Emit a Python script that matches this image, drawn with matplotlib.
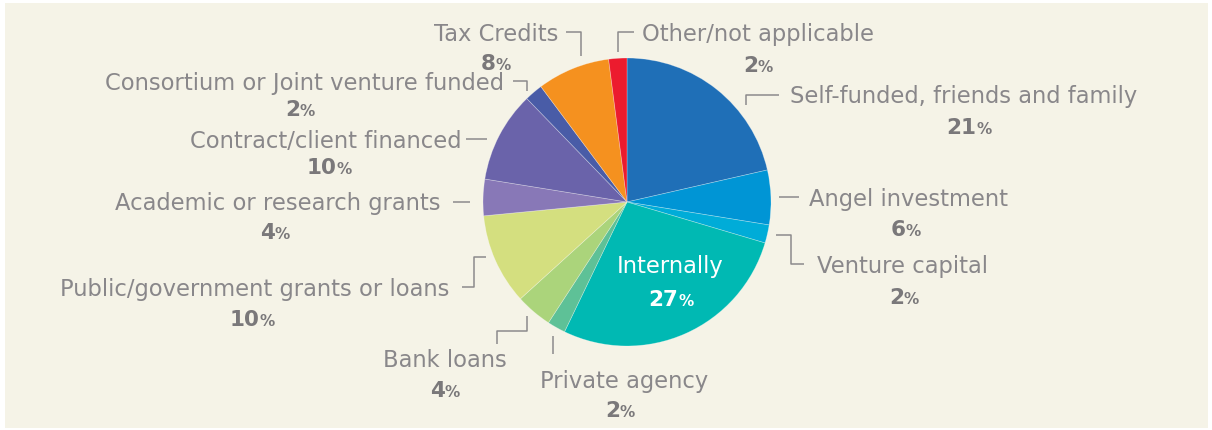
import matplotlib.pyplot as plt
from matplotlib.patches import Rectangle

W, H = 1212, 431

labels = ["Self-funded, friends and family", "Angel investment", "Venture capital",
          "Internally", "Private agency", "Bank loans",
          "Public/government grants or loans", "Academic or research grants",
          "Contract/client financed", "Consortium or Joint venture funded",
          "Tax Credits", "Other/not applicable"]
values = [21, 6, 2, 27, 2, 4, 10, 4, 10, 2, 8, 2]
colors = ["#1f6fb7", "#0095d5", "#00acd8", "#00b9b3", "#5ec197", "#abd47b",
          "#d4df7f", "#8878b7", "#6a63aa", "#495ca7", "#f5911f", "#ec1b2e"]

# layout in image pixels (y down): label anchor, percent centre, leader path
layout = [
    dict(text=(790, 95, "left"), pct=(969, 127), leader=[(746, 106), (746, 96), (779, 96)]),
    dict(text=(809, 198, "left"), pct=(906, 229), leader=[(779, 198), (799, 198)]),
    dict(text=(817, 265, "left"), pct=(904, 297), leader=[(776, 236), (791, 236), (791, 265), (804, 265)]),
    dict(text=(670, 265, "center"), pct=(671, 298), leader=None),
    dict(text=(624, 380, "center"), pct=(620, 410), leader=[(553, 337), (553, 355)]),
    dict(text=(445, 359, "center"), pct=(445, 390), leader=[(497, 345), (497, 332), (527, 332), (527, 317)]),
    dict(text=(449, 288, "right"), pct=(252, 318), leader=[(462, 288), (474, 288), (474, 258), (486, 258)]),
    dict(text=(440, 202, "right"), pct=(275, 232), leader=[(453, 203), (470, 203)]),
    dict(text=(461, 140, "right"), pct=(329, 167), leader=[(466, 140), (487, 140)]),
    dict(text=(504, 82, "right"), pct=(300, 109), leader=[(513, 82), (527, 82), (527, 92)]),
    dict(text=(558, 33, "right"), pct=(496, 62), leader=[(566, 33), (581, 33), (581, 57)]),
    dict(text=(642, 33, "left"), pct=(758, 65), leader=[(618, 53), (618, 33), (634, 33)]),
]

TEXT = "#89878a"
PCT = "#7a787a"
LINE = "#8c8a8c"
FONT = "DejaVu Sans"


def Y(y):
    return H - y


fig = plt.figure(figsize=(W / 100, H / 100), dpi=100)
fig.patch.set_facecolor("white")
ax = fig.add_axes([0, 0, 1, 1])
ax.add_patch(Rectangle((5, Y(429)), 1203, 425, facecolor="#f5f3e7", edgecolor="none", zorder=0))

ax.pie(values, colors=colors, startangle=90, counterclock=False,
       center=(627, Y(203)), radius=144, frame=True,
       wedgeprops=dict(edgecolor=(1, 1, 1, 0.35), linewidth=0.5))
ax.set_xlim(0, W)
ax.set_ylim(0, H)
ax.set_aspect("equal")
ax.axis("off")

fig.canvas.draw()
renderer = fig.canvas.get_renderer()

for i, lab in enumerate(labels):
    lay = layout[i]
    inside = lay["leader"] is None
    tcol = "white" if inside else TEXT
    pcol = "white" if inside else PCT
    x, y, ha = lay["text"]
    ax.text(x, Y(y - 1), lab, ha=ha, va="center_baseline", fontsize=16.3, color=tcol,
            family=FONT, fontweight="normal")
    # percent label: big bold number + small percent sign, centred as a group
    cx, cy = lay["pct"]
    t1 = ax.text(0, Y(cy), str(values[i]), ha="left", va="baseline", fontsize=15.5,
                 color=pcol, family=FONT, fontweight="bold")
    t2 = ax.text(0, Y(cy), "%", ha="left", va="baseline", fontsize=11,
                 color=pcol, family=FONT, fontweight="bold")
    w1 = t1.get_window_extent(renderer).width
    w2 = t2.get_window_extent(renderer).width
    left = cx - (w1 + w2) / 2
    t1.set_position((left, Y(cy + 7.5)))
    t2.set_position((left + w1, Y(cy + 7.5)))
    if lay["leader"]:
        xs = [p[0] for p in lay["leader"]]
        ys = [Y(p[1]) for p in lay["leader"]]
        ax.plot(xs, ys, color=LINE, linewidth=1.1, solid_capstyle="butt")

fig.savefig("out.png", dpi=100, facecolor="white")
